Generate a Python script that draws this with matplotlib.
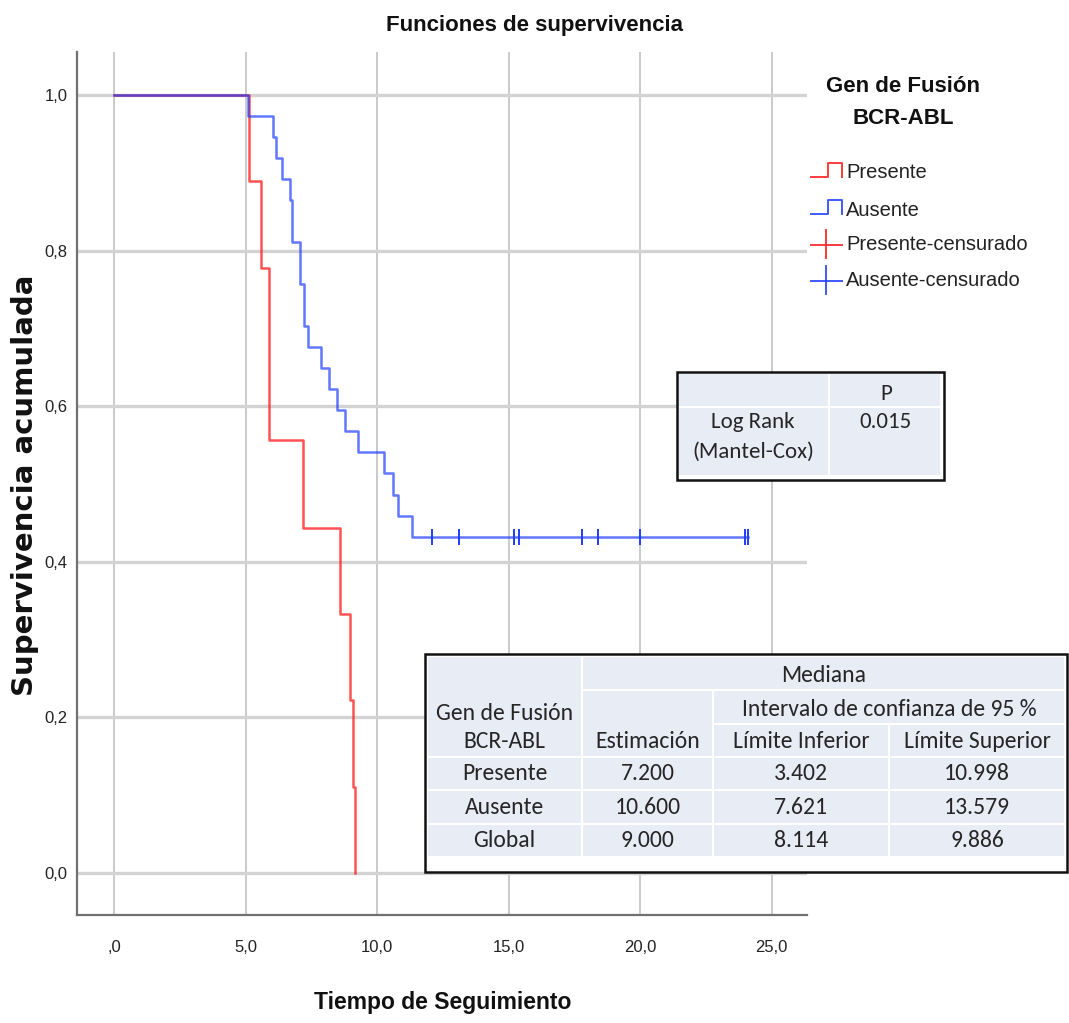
import matplotlib
matplotlib.use("Agg")
import matplotlib.pyplot as plt
from matplotlib.patches import Rectangle
from matplotlib.lines import Line2D

# ---------------- data ----------------
pres_times = [0.0, 5.15, 5.60, 5.90, 7.20, 8.60, 8.97, 9.07, 9.17]
pres_surv = [1.0, 0.889, 0.778, 0.556, 0.444, 0.333, 0.222, 0.111, 0.0]

aus_times = [0.0, 5.08, 6.06, 6.16, 6.37, 6.69, 6.77, 7.07, 7.24, 7.36, 7.87,
             8.19, 8.49, 8.78, 9.29, 10.28, 10.62, 10.81, 11.32, 24.10]
aus_surv = [1.0, 0.973, 0.946, 0.919, 0.892, 0.865, 0.811, 0.757, 0.703, 0.676,
            0.649, 0.622, 0.595, 0.568, 0.541, 0.514, 0.486, 0.459, 0.432, 0.432]
aus_cens_times = [12.1, 13.1, 15.2, 15.4, 17.8, 18.4, 20.0, 24.0, 24.1]
aus_cens_surv = [0.432] * len(aus_cens_times)

x_ticks = [0, 5, 10, 15, 20, 25]
x_tick_labels = [",0", "5,0", "10,0", "15,0", "20,0", "25,0"]
y_ticks = [0.0, 0.2, 0.4, 0.6, 0.8, 1.0]
y_tick_labels = ["0,0", "0,2", "0,4", "0,6", "0,8", "1,0"]

legend_title = "Gen de Fusión\nBCR-ABL"
legend_labels = ["Presente", "Ausente", "Presente-censurado", "Ausente-censurado"]

logrank_header = ["", "P"]
logrank_row = ["Log Rank", "(Mantel-Cox)", "0.015"]

median_groups = ["Presente", "Ausente", "Global"]
median_est = ["7.200", "10.600", "9.000"]
median_low = ["3.402", "7.621", "8.114"]
median_up = ["10.998", "13.579", "9.886"]

# ---------------- styling ----------------
NARROW = ["Liberation Sans", "DejaVu Sans"]
TABLEF = ["Carlito", "Lato", "DejaVu Sans"]
RED = "#ff1a1a"
BLUE = "#1f3dff"
W, H = 1069, 1023

fig = plt.figure(figsize=(W / 100, H / 100), dpi=100)
fig.patch.set_facecolor("white")

ax = fig.add_axes([77 / W, (H - 915) / H, 730 / W, 863 / H])
ax.set_xlim(-1.406, 26.34)
ax.set_ylim(-0.054, 1.0553)

for xt in x_ticks:
    ax.axvline(xt, color="#c6c6c6", lw=1.3, zorder=1)
for yt in y_ticks:
    ax.axhline(yt, color="#d3d3d3", lw=2.4, zorder=1)

ax.step(pres_times, pres_surv, where="post", color=RED, lw=1.8, alpha=0.75, zorder=3)
ax.step(aus_times, aus_surv, where="post", color=BLUE, lw=1.8, alpha=0.7, zorder=4)
ax.plot(aus_cens_times, aus_cens_surv, ls="none", marker="|", ms=12, mew=1.4,
        color=BLUE, zorder=5)

ax.set_xticks(x_ticks)
ax.set_xticklabels(x_tick_labels)
ax.set_yticks(y_ticks)
ax.set_yticklabels(y_tick_labels)
ax.tick_params(axis="x", length=0, pad=18, labelsize=12, colors="#222222")
ax.tick_params(axis="y", length=0, pad=7, labelsize=12, colors="#222222")
for lab in ax.get_xticklabels() + ax.get_yticklabels():
    lab.set_family(NARROW)

for s in ["top", "right"]:
    ax.spines[s].set_visible(False)
for s in ["left", "bottom"]:
    ax.spines[s].set_color("#707070")
    ax.spines[s].set_linewidth(1.6)

fig.text(25 / W, 1 - 485 / H, "Supervivencia acumulada", rotation=90,
         ha="center", va="center", family=["DejaVu Sans"], fontweight="bold",
         fontsize=21, color="#111111")

fig.text(0.5, 1 - 25 / H, "Funciones de supervivencia", ha="center", va="center",
         family=NARROW, fontweight="bold", fontsize=16, color="#111111")
fig.text(443 / W, 1 - 1003 / H, "Tiempo de Seguimiento", ha="center", va="center",
         family=NARROW, fontweight="bold", fontsize=16.5, color="#111111")

# ---------------- overlay in pixel coordinates ----------------
ov = fig.add_axes([0, 0, 1, 1], zorder=10)
ov.set_xlim(0, W)
ov.set_ylim(H, 0)
ov.axis("off")
ov.patch.set_alpha(0)

# legend
ov.text(903, 87, legend_title.split("\n")[0], ha="center", va="center", family=NARROW,
        fontweight="bold", fontsize=16, color="#111111")
ov.text(903, 119, legend_title.split("\n")[1], ha="center", va="center", family=NARROW,
        fontweight="bold", fontsize=16, color="#111111")
leg_y = [173, 210, 245, 281]
leg_col = [RED, BLUE, RED, BLUE]
for i, (yy, c, lab) in enumerate(zip(leg_y, leg_col, legend_labels)):
    if i < 2:
        ov.add_line(Line2D([811, 828, 828, 842, 842], [yy + 4, yy + 4, yy - 10, yy - 10, yy + 4],
                           color=c, lw=1.4, alpha=0.85))
    else:
        ov.add_line(Line2D([811, 842], [yy, yy], color=c, lw=1.4, alpha=0.85))
        ov.add_line(Line2D([826, 826], [yy - 15, yy + 13], color=c, lw=1.4, alpha=0.85))
    ov.text(846, yy, lab, ha="left", va="center", family=NARROW, fontsize=14.5,
            color="#222222")

CELL = "#e8ecf5"
TXT = "#262626"


def cell(x0, y0, x1, y1):
    ov.add_patch(Rectangle((x0 + 1, y0 + 1), x1 - x0 - 2, y1 - y0 - 2,
                           facecolor=CELL, edgecolor="none"))


def border(x0, y0, x1, y1):
    ov.add_patch(Rectangle((x0, y0), x1 - x0, y1 - y0, facecolor="white",
                           edgecolor="#111111", lw=1.8))


# log-rank table
border(677, 372, 944, 480)
cell(678, 373, 829, 407)
cell(829, 373, 941, 407)
cell(678, 407, 829, 476)
cell(829, 407, 941, 476)
lfs = 16.5
ov.text(886, 394, logrank_header[1], ha="center", va="center", family=TABLEF,
        fontsize=lfs, color=TXT)
ov.text(753, 422, logrank_row[0], ha="center", va="center", family=TABLEF,
        fontsize=lfs, color=TXT)
ov.text(753, 452, logrank_row[1], ha="center", va="center", family=TABLEF,
        fontsize=lfs, color=TXT)
ov.text(886, 422, logrank_row[2], ha="center", va="center", family=TABLEF,
        fontsize=lfs, color=TXT)

# median table
border(425, 654, 1067, 872)
cols = [427, 582, 713, 889, 1065]
rows = [656, 690, 724, 757, 790, 824, 857]
cell(cols[0], rows[0], cols[1], rows[3])
cell(cols[1], rows[0], cols[4], rows[1])
cell(cols[1], rows[1], cols[2], rows[3])
cell(cols[2], rows[1], cols[4], rows[2])
cell(cols[2], rows[2], cols[3], rows[3])
cell(cols[3], rows[2], cols[4], rows[3])
for r in range(3, 6):
    for c in range(4):
        cell(cols[c], rows[r], cols[c + 1], rows[r + 1])

fs = 17
ov.text((cols[1] + cols[4]) / 2, 676, "Mediana", ha="center", va="center",
        family=TABLEF, fontsize=fs, color=TXT)
ov.text((cols[2] + cols[4]) / 2, 710, "Intervalo de confianza de 95 %", ha="center",
        va="center", family=TABLEF, fontsize=fs, color=TXT)
ov.text((cols[0] + cols[1]) / 2, 713, "Gen de Fusión", ha="center", va="center",
        family=TABLEF, fontsize=fs, color=TXT)
hdr = ["BCR-ABL", "Estimación", "Límite Inferior", "Límite Superior"]
for c in range(4):
    ov.text((cols[c] + cols[c + 1]) / 2, 742, hdr[c], ha="center", va="center",
            family=TABLEF, fontsize=fs, color=TXT)
for r in range(3):
    yc = (rows[r + 3] + rows[r + 4]) / 2
    vals = [median_groups[r], median_est[r], median_low[r], median_up[r]]
    for c in range(4):
        ov.text((cols[c] + cols[c + 1]) / 2, yc, vals[c], ha="center", va="center",
                family=TABLEF, fontsize=fs, color=TXT)

fig.savefig("out.png", dpi=100, facecolor="white")
